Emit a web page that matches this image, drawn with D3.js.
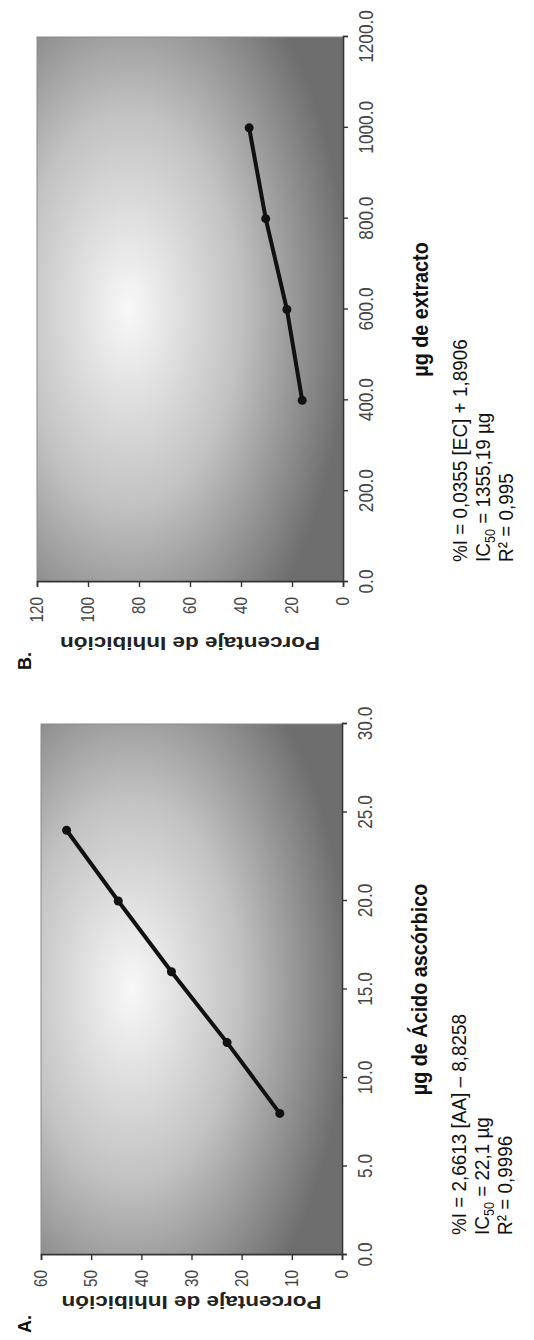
<!DOCTYPE html>
<html>
<head>
<meta charset="utf-8">
<script src="https://cdn.jsdelivr.net/npm/d3@7"></script>
<style>
  html, body { margin: 0; padding: 0; background: #fff; }
  text { font-family: "Liberation Sans", Arial, sans-serif; }
</style>
</head>
<body>
<div id="fig"></div>
<script>
// chart A : ascorbic acid
const doseA = [8, 12, 16, 20, 24];
const inhibA = [12.4, 22.9, 34.0, 44.6, 54.9];
const xTicksA = [0, 5, 10, 15, 20, 25, 30];
const yTicksA = [0, 10, 20, 30, 40, 50, 60];
const notesA = ["%I = 2,6613 [AA] \u2013 8,8258", "IC|50| = 22,1 \u00b5g", "R\u00b2 = 0,9996"];

// chart B : extract
const doseB = [400, 600, 800, 1000];
const inhibB = [16.0, 22.0, 30.3, 36.8];
const xTicksB = [0, 200, 400, 600, 800, 1000, 1200];
const yTicksB = [0, 20, 40, 60, 80, 100, 120];
const notesB = ["%I = 0,0355 [EC] + 1,8906", "IC|50| = 1355,19 \u00b5g", "R\u00b2 = 0,995"];

const W = 534, H = 1340;

// the figure is turned a quarter turn, so draw it landscape and rotate the lot
const svg = d3.select("#fig").append("svg")
    .attr("width", W).attr("height", H);

const defs = svg.append("defs");
const grad = defs.append("radialGradient")
    .attr("id", "bg")
    .attr("cx", 0.5).attr("cy", 0.3).attr("r", 0.72)
    .attr("fx", 0.5).attr("fy", 0.3);
grad.append("stop").attr("offset", "0%").attr("stop-color", "#f8f8f8");
grad.append("stop").attr("offset", "50%").attr("stop-color", "#c2c2c2");
grad.append("stop").attr("offset", "100%").attr("stop-color", "#6e6e6e");

const fig = svg.append("g")
    .attr("transform", "translate(0," + H + ") rotate(-90)");

// narrow look: squeeze the text along its baseline
const NX = 0.82, NY = 0.85;

function drawChart(opt) {
    const x = d3.scaleLinear().domain(opt.xDomain).range([opt.left, opt.right]);
    const y = d3.scaleLinear().domain(opt.yDomain).range([opt.bottom, opt.top]);
    const g = fig.append("g");

    g.append("rect")
        .attr("x", opt.left).attr("y", opt.top)
        .attr("width", opt.right - opt.left).attr("height", opt.bottom - opt.top)
        .attr("fill", "url(#bg)")
        .attr("stroke", "#8a8a8a").attr("stroke-width", 1);

    const xAxis = g.append("g")
        .attr("transform", "translate(0," + opt.bottom + ")")
        .call(d3.axisBottom(x).tickValues(opt.xTicks).tickFormat(d3.format(".1f")).tickSizeOuter(0).tickSize(5).tickPadding(10));
    const yAxis = g.append("g")
        .attr("transform", "translate(" + opt.left + ",0)")
        .call(d3.axisLeft(y).tickValues(opt.yTicks).tickSizeOuter(0).tickSize(5).tickPadding(10));

    [xAxis, yAxis].forEach(a => {
        a.select(".domain").attr("stroke", "#333").attr("stroke-width", 1.6);
        a.selectAll(".tick line").attr("stroke", "#333").attr("stroke-width", 1.4);
        a.selectAll("text").attr("fill", "#444");
    });
    xAxis.selectAll("text")
        .style("font-size", "21px")
        .attr("transform", "scale(" + NX + ",1)");
    yAxis.selectAll("text")
        .style("font-size", "18px")
        .attr("x", -15 / NY)
        .attr("transform", "scale(" + NY + ",1)");

    const line = d3.line().x(d => x(d[0])).y(d => y(d[1]));
    const pts = opt.xs.map((v, i) => [v, opt.ys[i]]);
    g.append("path")
        .datum(pts)
        .attr("d", line)
        .attr("fill", "none")
        .attr("stroke", "#111")
        .attr("stroke-width", 4);
    g.selectAll(".dot").data(pts).enter().append("circle")
        .attr("cx", d => x(d[0])).attr("cy", d => y(d[1]))
        .attr("r", 4.5).attr("fill", "#111");

    // axis titles
    g.append("text")
        .attr("transform", "translate(" + (opt.left + opt.right) / 2 + "," + (opt.bottom + 85) + ") scale(0.9,1)")
        .attr("text-anchor", "middle")
        .style("font-size", "22px").style("font-weight", "bold")
        .attr("fill", "#111")
        .text(opt.xTitle);
    g.append("text")
        .attr("transform", "translate(" + opt.yTitleX + "," + (opt.top + opt.bottom) / 2 + ") rotate(-90) scale(1.25,1)")
        .attr("text-anchor", "middle").attr("dy", "0.35em")
        .style("font-size", "18px").style("font-weight", "bold")
        .attr("fill", "#222")
        .text(opt.yTitle);

    // panel letter
    g.append("text")
        .attr("x", opt.letterX).attr("y", 31)
        .style("font-size", "18px").style("font-weight", "bold")
        .attr("fill", "#111")
        .text(opt.letter);

    // regression notes
    opt.notes.forEach((s, i) => {
        const t = g.append("text")
            .attr("transform", "translate(" + (opt.left + 20) + "," + (opt.bottom + 124 + i * 23) + ") scale(0.9,1)")
            .style("font-size", "21px")
            .attr("fill", "#111");
        s.split("|").forEach((part, k) => {
            const sp = t.append("tspan").text(part);
            if (k == 1) sp.attr("dy", 5).style("font-size", "14px");
            if (k == 2) sp.attr("dy", -5);
        });
    });
}

drawChart({
    xs: doseA, ys: inhibA, xTicks: xTicksA, yTicks: yTicksA,
    xDomain: [0, 30], yDomain: [0, 60],
    left: 85, right: 616, top: 41, bottom: 342,
    xTitle: "\u00b5g de \u00c1cido asc\u00f3rbico",
    yTitle: "Porcentaje de Inhibici\u00f3n", yTitleX: 38,
    letter: "A.", letterX: 7, notes: notesA
});

drawChart({
    xs: doseB, ys: inhibB, xTicks: xTicksB, yTicks: yTicksB,
    xDomain: [0, 1200], yDomain: [0, 120],
    left: 758, right: 1303, top: 37, bottom: 343,
    xTitle: "\u00b5g de extracto",
    yTitle: "Porcentaje de Inhibici\u00f3n", yTitleX: 697,
    letter: "B.", letterX: 670, notes: notesB
});
</script>
</body>
</html>
